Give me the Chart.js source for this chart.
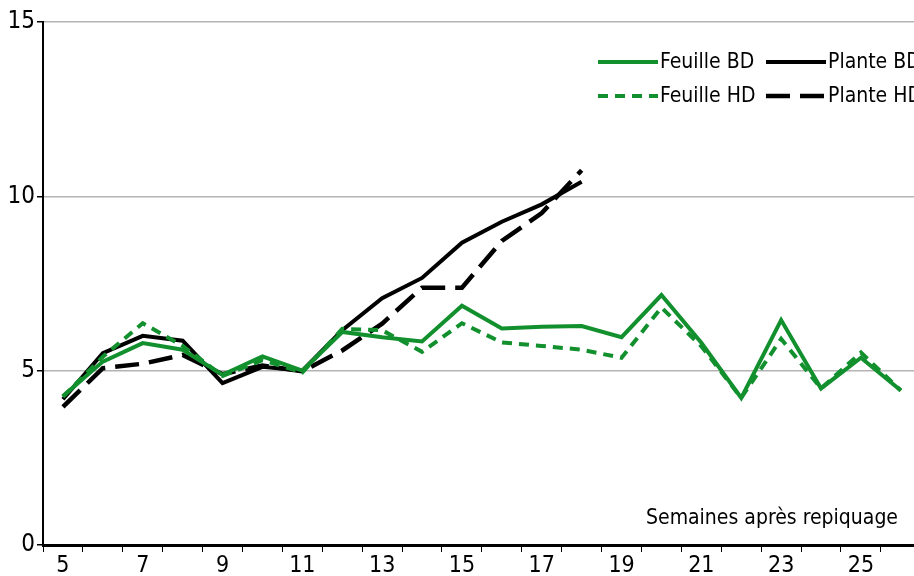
<!DOCTYPE html>
<html>
<head>
<meta charset="utf-8">
<script src="https://cdn.jsdelivr.net/npm/chart.js@4/dist/chart.umd.min.js"></script>
<style>
  html, body { margin: 0; padding: 0; background: #fff; overflow: hidden; }
  #wrap { width: 914px; height: 576px; }
</style>
</head>
<body>
<div id="wrap"><canvas id="lineChart" width="914" height="576"></canvas></div>
<script>
// Data
const weeks = [5, 6, 7, 8, 9, 10, 11, 12, 13, 14, 15, 16, 17, 18, 19, 20, 21, 22, 23, 24, 25, 26];
const feuilleBD = [4.27, 5.26, 5.79, 5.6, 4.88, 5.41, 5.0, 6.11, 5.96, 5.84, 6.86, 6.21, 6.26, 6.28, 5.96, 7.17, 5.8, 4.22, 6.45, 4.49, 5.37, 4.43];
const feuilleHD = [4.25, 5.4, 6.36, 5.71, 4.85, 5.3, 4.95, 6.2, 6.16, 5.54, 6.36, 5.81, 5.71, 5.6, 5.37, 6.81, 5.7, 4.22, 5.91, 4.49, 5.52, 4.43];
const planteBD = [4.18, 5.5, 6.0, 5.86, 4.64, 5.11, 5.0, 6.16, 7.08, 7.66, 8.67, 9.27, 9.77, 10.42, null, null, null, null, null, null, null, null];
const planteHD = [3.96, 5.07, 5.2, 5.45, 4.9, 5.15, 4.98, 5.58, 6.35, 7.38, 7.38, 8.72, 9.52, 10.75, null, null, null, null, null, null, null, null];
const yTicks = [0, 5, 10, 15];
const axisCaption = 'Semaines après repiquage';

// Colors & fonts
const greenColor = '#12902e';
const blackColor = '#000000';
const gridColor = '#b4b4b4';
const fontFamily = "'Liberation Sans Narrow', 'Arial Narrow', 'DejaVu Sans Condensed', sans-serif";

// legend (2 x 2, top right) + caption inside the plot
const chartText = {
  id: 'chartText',
  afterDraw(chart) {
    const ctx = chart.ctx;
    const area = chart.chartArea;
    ctx.save();
    ctx.font = '21px ' + fontFamily;
    ctx.fillStyle = blackColor;
    ctx.textBaseline = 'middle';

    // legend order: Feuille BD, Plante BD / Feuille HD, Plante HD
    const cells = [
      { ds: 0, x: 598, y: 62 },
      { ds: 2, x: 766, y: 62 },
      { ds: 1, x: 598, y: 96 },
      { ds: 3, x: 766, y: 96 }
    ];
    cells.forEach(c => {
      const d = chart.data.datasets[c.ds];
      ctx.beginPath();
      ctx.strokeStyle = d.borderColor;
      ctx.lineWidth = d.borderWidth;
      ctx.setLineDash(d.borderDash || []);
      ctx.moveTo(c.x, c.y);
      ctx.lineTo(c.x + 60, c.y);
      ctx.stroke();
      ctx.setLineDash([]);
      ctx.textAlign = 'left';
      ctx.fillText(d.label, c.x + 62, c.y + 1);
    });

    ctx.textAlign = 'right';
    ctx.fillText(axisCaption, area.right - 16, area.bottom - 26);
    ctx.restore();
  }
};

const lineChart = document.getElementById('lineChart');
if (lineChart) {
  const lineChartVar = new Chart(lineChart, {
    type: 'line',
    data: {
      labels: weeks,
      datasets: [
        {
          label: 'Feuille BD',
          data: feuilleBD,
          borderColor: greenColor,
          borderWidth: 4
        },
        {
          label: 'Feuille HD',
          data: feuilleHD,
          borderColor: greenColor,
          borderWidth: 4,
          borderDash: [10, 7]
        },
        {
          label: 'Plante BD',
          data: planteBD,
          borderColor: blackColor,
          borderWidth: 4
        },
        {
          label: 'Plante HD',
          data: planteHD,
          borderColor: blackColor,
          borderWidth: 4.5,
          borderDash: [24, 10]
        }
      ]
    },
    options: {
      responsive: false,
      animation: false,
      layout: {
        padding: { top: 22, right: 0, bottom: 0, left: 0 }
      },
      elements: {
        point: { radius: 0 },
        line: { tension: 0, fill: false }
      },
      plugins: {
        legend: { display: false },
        tooltip: { enabled: false }
      },
      scales: {
        x: {
          type: 'linear',
          min: 4.5,
          max: 26.33,
          afterFit: scale => { scale.height = 31; },
          grid: {
            offset: true,
            drawOnChartArea: false,
            drawTicks: true,
            tickLength: 7,
            tickColor: blackColor,
            tickWidth: 1
          },
          border: { color: blackColor, width: 3 },
          ticks: {
            stepSize: 1,
            includeBounds: false,
            autoSkip: false,
            maxRotation: 0,
            padding: 0,
            color: blackColor,
            font: { family: fontFamily, size: 23 },
            callback: v => (v % 2 === 1 ? String(v) : '')
          }
        },
        y: {
          min: 0,
          max: 15,
          afterFit: scale => { scale.width = 43; },
          afterBuildTicks: scale => { scale.ticks = yTicks.map(v => ({ value: v })); },
          grid: {
            color: gridColor,
            lineWidth: 1.5,
            tickLength: 6,
            tickColor: blackColor
          },
          border: { color: blackColor, width: 2 },
          ticks: {
            padding: 2,
            color: blackColor,
            font: { family: fontFamily, size: 24 }
          }
        }
      }
    },
    plugins: [chartText]
  });
}
</script>
</body>
</html>
